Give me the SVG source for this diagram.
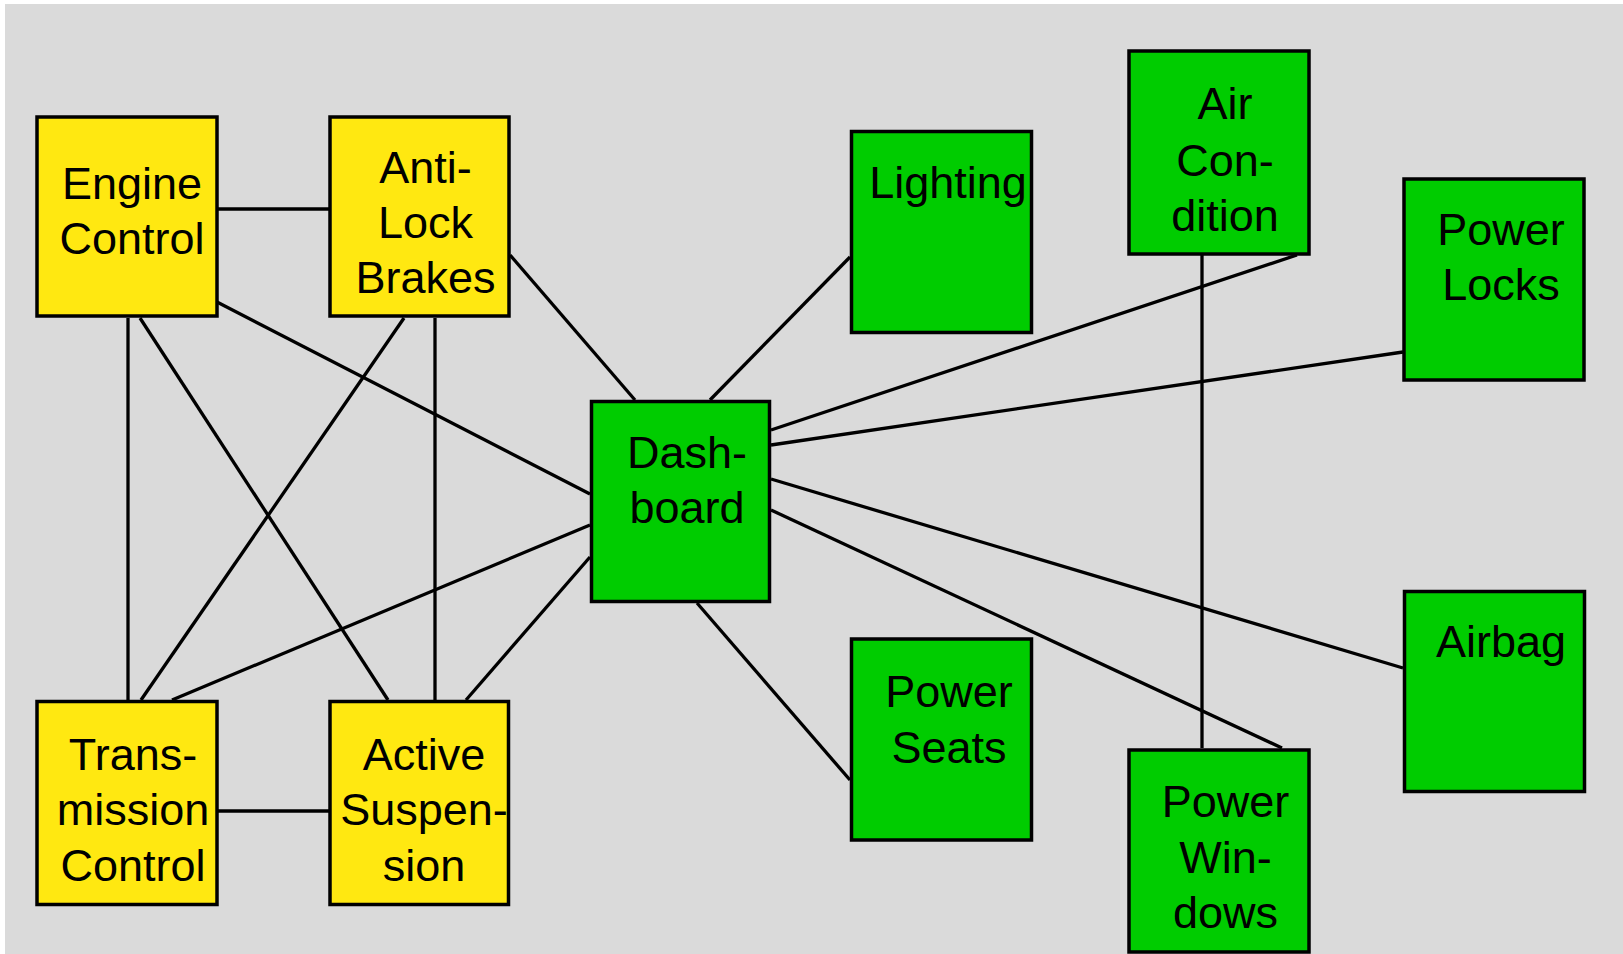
<svg xmlns="http://www.w3.org/2000/svg" width="1623" height="954" viewBox="0 0 1623 954">
<style>
.bg{fill:#dadada}
.y{fill:#ffe811;stroke:#000;stroke-width:3.5}
.g{fill:#00cc00;stroke:#000;stroke-width:3.5}
.c line{stroke:#000;stroke-width:3.3}
text{font-family:"Liberation Sans",Arial,sans-serif;font-size:45px;fill:#000;text-anchor:middle}
</style>
<rect x="0" y="0" width="1623" height="954" fill="#fff"/>
<rect class="bg" x="5" y="4" width="1618" height="950"/>
<g id="connectors" class="c">
<line x1="218" y1="209" x2="329" y2="209"/>
<line x1="128" y1="318" x2="128" y2="700"/>
<line x1="140" y1="318" x2="388" y2="700"/>
<line x1="217" y1="302" x2="590" y2="494"/>
<line x1="404" y1="318" x2="141" y2="700"/>
<line x1="435" y1="318" x2="435" y2="700"/>
<line x1="510" y1="255" x2="635" y2="400"/>
<line x1="218" y1="811" x2="329" y2="811"/>
<line x1="172" y1="700" x2="590" y2="525"/>
<line x1="466" y1="700" x2="590" y2="557"/>
<line x1="710" y1="400" x2="850" y2="257"/>
<line x1="771" y1="430" x2="1297" y2="255"/>
<line x1="771" y1="445" x2="1403" y2="352"/>
<line x1="771" y1="479" x2="1403" y2="668"/>
<line x1="771" y1="510" x2="1282" y2="748"/>
<line x1="697" y1="603" x2="850" y2="780"/>
<line x1="1202" y1="255" x2="1202" y2="748"/>
</g>
<g id="engine"><rect class="y" x="37" y="117" width="180" height="199"/><text x="132" y="199">Engine</text><text x="132" y="254">Control</text></g>
<g id="abs"><rect class="y" x="330" y="117" width="179" height="199"/><text x="425.5" y="183">Anti-</text><text x="425.5" y="238">Lock</text><text x="425.5" y="293">Brakes</text></g>
<g id="trans"><rect class="y" x="37" y="701.5" width="180" height="203"/><text x="133" y="770">Trans-</text><text x="133" y="825">mission</text><text x="133" y="881">Control</text></g>
<g id="active"><rect class="y" x="330" y="701.5" width="178.5" height="203"/><text x="424" y="770">Active</text><text x="424" y="825">Suspen-</text><text x="424" y="881">sion</text></g>
<g id="dashboard"><rect class="g" x="591.5" y="401.5" width="178" height="200"/><text x="687" y="468">Dash-</text><text x="687" y="523">board</text></g>
<g id="lighting"><rect class="g" x="851.5" y="131.5" width="180" height="201"/><text x="948" y="198">Lighting</text></g>
<g id="aircond"><rect class="g" x="1129" y="51" width="180" height="203"/><text x="1225" y="119">Air</text><text x="1225" y="176">Con-</text><text x="1225" y="231">dition</text></g>
<g id="powerlocks"><rect class="g" x="1404" y="179" width="180" height="201"/><text x="1501" y="245">Power</text><text x="1501" y="300">Locks</text></g>
<g id="airbag"><rect class="g" x="1404.5" y="591.5" width="180" height="200"/><text x="1501" y="657">Airbag</text></g>
<g id="powerwindows"><rect class="g" x="1129" y="750" width="180" height="202"/><text x="1225.5" y="817">Power</text><text x="1225.5" y="873">Win-</text><text x="1225.5" y="928">dows</text></g>
<g id="powerseats"><rect class="g" x="851.5" y="639" width="180" height="201"/><text x="949" y="707">Power</text><text x="949" y="763">Seats</text></g>
</svg>
